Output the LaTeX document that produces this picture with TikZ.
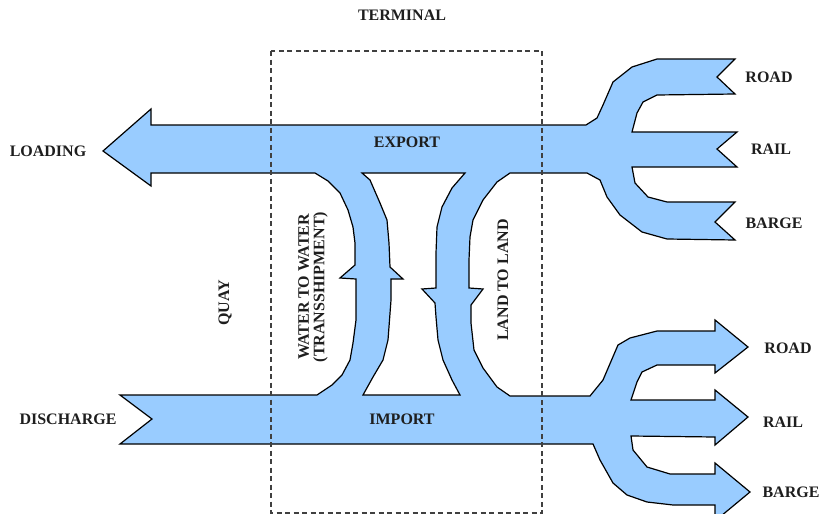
\documentclass[tikz,border=0pt]{standalone}
\usepackage{fontspec}
\setmainfont{Liberation Serif}
\definecolor{flowblue}{HTML}{99CCFF}
\definecolor{txt}{HTML}{1E1E1E}
\begin{document}
\begin{tikzpicture}[x=1pt,y=-1pt,
  flow/.style={draw=black,line width=1.2pt,fill=flowblue,even odd rule},
  lbl/.style={font=\fontsize{16}{15.5}\selectfont\bfseries,text=txt,inner sep=0pt,align=center},
  termbox/.style={draw=black!75,line width=1.4pt,dash pattern=on 5pt off 3.5pt}]
\useasboundingbox (0,0) rectangle (822,514);
\begin{scope}
\clip (0,0) rectangle (822,514);
\path[flow]
 (103,151) -- (151,109) -- (151,125) -- (586,125)
 -- (597,118) -- (603,105) -- (613,82) -- (632,67) -- (657,59) -- (735,59)
 -- (717,77) -- (735,94) -- (657,95) -- (643,102) -- (637,113) -- (632,132)
 -- (737,132) -- (717,149) -- (737,167) -- (632,167)
 -- (635,183) -- (648,197) -- (667,202) -- (735,202) -- (715,222) -- (735,240)
 -- (667,239) -- (642,232) -- (620,215) -- (607,197) -- (600,180) -- (587,173)
 -- (510,173) -- (497,182) -- (483,200) -- (473,220) -- (470,237) -- (469,260)
 -- (469,288) -- (483,289) -- (471,305) -- (471,323) -- (474,350) -- (483,368)
 -- (497,387) -- (510,396)
 -- (590,396) -- (603,380) -- (618,345) -- (630,338) -- (657,331) -- (715,331)
 -- (715,320) -- (748,347) -- (715,373) -- (715,365) -- (657,365) -- (642,372)
 -- (637,382) -- (631,400) -- (715,400) -- (715,390) -- (748,417) -- (715,445)
 -- (715,437) -- (631,436) -- (633,450) -- (647,467) -- (670,474) -- (715,474)
 -- (715,463) -- (750,492) -- (715,521) -- (715,505) -- (673,505) -- (647,502)
 -- (627,495) -- (613,483) -- (600,460) -- (593,444)
 -- (120,444) -- (152,419) -- (120,395) -- (317,395)
 -- (332,385) -- (342,375) -- (350,360) -- (353,343) -- (356,320) -- (356,279)
 -- (340,278) -- (355,265) -- (355,243) -- (353,227) -- (348,210) -- (340,193)
 -- (328,181) -- (315,173) -- (151,173) -- (151,186) -- cycle
 (362,173) -- (465,173) -- (452,188) -- (442,207) -- (437,227) -- (436,253)
 -- (436,288) -- (422,289) -- (435,303) -- (436,317) -- (438,340) -- (443,360)
 -- (452,380) -- (460,395) -- (363,395) -- (373,377) -- (383,360) -- (388,340)
 -- (391,300) -- (391,279) -- (403,279) -- (390,267) -- (389,243) -- (387,220)
 -- (380,203) -- (370,180) -- cycle;
\end{scope}
\draw[termbox] (271,51) rectangle (542,513);
\node[lbl] (terminal) at (402,15) {TERMINAL};
\node[lbl] (loading) at (48,151) {LOADING};
\node[lbl] (discharge) at (68,419) {DISCHARGE};
\node[lbl] (export) at (407,142) {EXPORT};
\node[lbl] (import) at (402,419) {IMPORT};
\node[lbl,rotate=90] (quay) at (225,303) {QUAY};
\node[lbl,rotate=90] (w2w) at (313,287) {WATER TO WATER\\(TRANSSHIPMENT)};
\node[lbl,rotate=90] (l2l) at (503,280) {LAND TO LAND};
\node[lbl] (road1) at (769,77) {ROAD};
\node[lbl] (rail1) at (771,149) {RAIL};
\node[lbl] (barge1) at (774,223) {BARGE};
\node[lbl] (road2) at (788,348) {ROAD};
\node[lbl] (rail2) at (783,422) {RAIL};
\node[lbl] (barge2) at (791,492) {BARGE};
\end{tikzpicture}
\end{document}
